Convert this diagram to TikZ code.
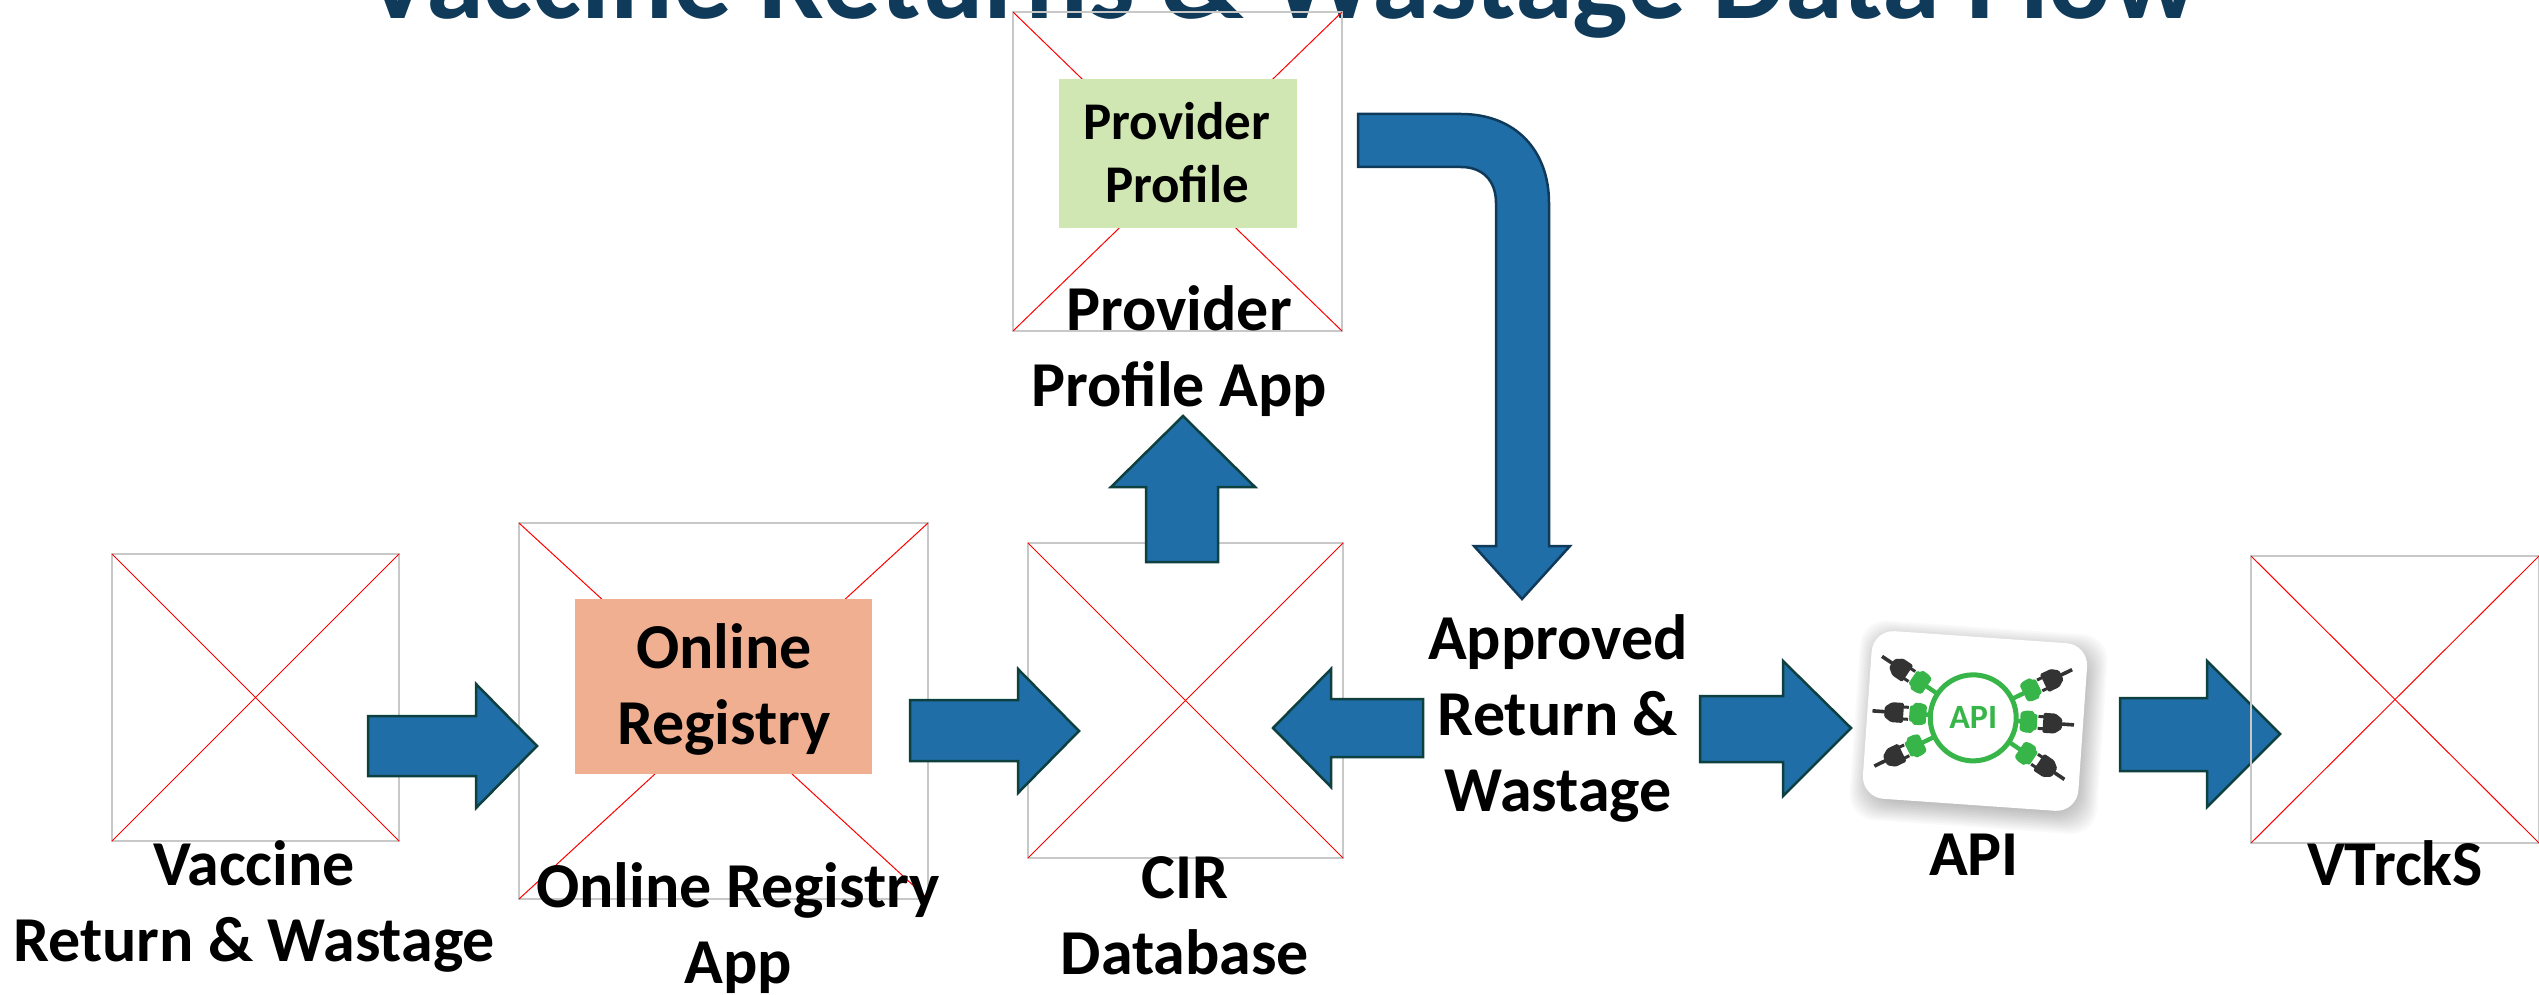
\documentclass[tikz,border=0pt]{standalone}
\usepackage{fontspec}
\setmainfont{Carlito}
\usetikzlibrary{calc}
\definecolor{arrowblue}{HTML}{1F6EA8}
\definecolor{arrowline}{HTML}{0F4040}
\definecolor{titleblue}{HTML}{0F3A5A}
\definecolor{framegray}{HTML}{C8C8C8}
\definecolor{boxorange}{HTML}{F1AF92}
\definecolor{boxgreen}{HTML}{D1E7B3}
\definecolor{apigreen}{HTML}{38B549}
\definecolor{plugdark}{HTML}{333333}
\tikzset{
 imgframe/.style={draw=framegray,line width=1pt,inner sep=0pt,outer sep=0pt,anchor=north west},
 crossline/.style={draw=red,line width=0.5pt},
 blockarrow/.style={fill=arrowblue,draw=arrowline,line width=1.25pt,miter limit=10},
 lab/.style={font=\fontsize{32}{38}\selectfont\bfseries,align=center,text=black,inner sep=0pt},
 smalllab/.style={font=\fontsize{26.5}{31.5}\selectfont\bfseries,align=center,text=black,inner sep=0pt},
}
\newcommand{\imgbox}[5]{% name x1 y1 x2 y2
 \node[imgframe,minimum width={(#4-#2)*0.5pt},minimum height={(#5-#3)*0.5pt}] (#1) at (#2,#3) {};
 \draw[crossline] (#1.north west) -- (#1.south east);
 \draw[crossline] (#1.north east) -- (#1.south west);
}
\newcommand{\harrow}[8]{% x0 ytop ybot xhead headtop headbot xtip ytip
 \draw[blockarrow] (#1,#2) -- (#4,#2) -- (#4,#5) -- (#7,#8) -- (#4,#6) -- (#4,#3) -- (#1,#3) -- cycle;
}
\newcommand{\apilobe}[2]{% angle, radial extra length
 \begin{scope}[rotate around={#1:(0,0)}]
  \fill[apigreen] (41,-2.2) rectangle (50+#2,2.2);
  \begin{scope}[shift={(#2,0)}]
   \fill[apigreen,rounded corners=0.7pt] (47,-9) -- (52,-11) -- (60,-11) -- (60,-8) -- (64,-8) -- (64,8) -- (60,8) -- (60,11) -- (52,11) -- (47,9) -- cycle;
   \fill[plugdark] (65,-7.5) rectangle (71,-4.5);
   \fill[plugdark] (65,4.5) rectangle (71,7.5);
   \fill[plugdark,rounded corners=0.7pt] (70,-10) -- (82,-10) -- (89,-5) -- (89,5) -- (82,10) -- (70,10) -- cycle;
   \fill[plugdark] (88,-1.8) rectangle (101,1.8);
  \end{scope}
 \end{scope}}
\begin{document}
\begin{tikzpicture}[x=0.5pt,y=-0.5pt]
\useasboundingbox (0,0) rectangle (2539,995);
\clip (0,0) rectangle (2539,995);
\fill[white] (0,0) rectangle (2539,995);

\node[font=\fontsize{58.5}{64}\selectfont\bfseries,text=titleblue,anchor=base,inner sep=0pt] (title) at (1281,19) {Vaccine Returns \& Wastage Data Flow};

\imgbox{vaccine}{112}{554}{399}{841}
\imgbox{online}{519}{523}{928}{899}
\imgbox{cir}{1028}{543}{1343}{858}
\imgbox{provider}{1013}{12}{1342}{331}

\node[fill=boxorange,inner sep=0pt,outer sep=0pt,anchor=north west,minimum width=148.5pt,minimum height=87.5pt] (orangebox) at (575,599) {};
\node[fill=boxgreen,inner sep=0pt,outer sep=0pt,anchor=north west,minimum width=119pt,minimum height=74.5pt] (greenbox) at (1059,79) {};

\harrow{368}{716}{776}{476}{684}{808}{537}{746}
\harrow{910}{700}{761}{1018}{669}{793}{1079}{731}
\harrow{1700}{696}{762}{1783}{661}{796}{1851}{728}
\harrow{2120}{698}{771}{2207}{661}{807}{2280}{734}
\harrow{1423}{699}{757}{1331}{669}{787}{1273}{728}
\draw[blockarrow] (1146,562) -- (1146,487) -- (1111,487) -- (1183,416) -- (1255,487) -- (1218,487) -- (1218,562) -- cycle;
\draw[blockarrow,draw=titleblue] (1358,114) -- (1461,114) .. controls (1515,114) and (1549,150) .. (1549,203) -- (1549,546) -- (1570,546) -- (1522,599) -- (1474,546) -- (1496,546) -- (1496,203) .. controls (1496,180) and (1482,167) .. (1461,167) -- (1358,167) -- cycle;

\imgbox{vtrcks}{2251}{556}{2539}{843}

% API card
\begin{scope}[shift={(1975,721)},rotate=-4]
 \foreach \g in {-6,-4,...,16}{
  \fill[black,opacity=0.025,rounded corners=13pt] (-108+4-\g,-84+6-\g) rectangle (108+4+\g,84+6+\g);
 }
 \fill[white,rounded corners=11pt] (-108,-84) rectangle (108,84);
 \begin{scope}[shift={(-2,-3)}]
  \apilobe{0}{0}
  \apilobe{180}{0}
  \apilobe{-30}{9}
  \apilobe{30}{9}
  \apilobe{150}{9}
  \apilobe{210}{9}
  \draw[apigreen,line width=2.5pt,fill=white] (0,0) circle (43);
  \node[font=\fontsize{17}{17}\selectfont\bfseries,text=apigreen,inner sep=0pt] (apiicon) at (0,0) {API};
 \end{scope}
\end{scope}

\node[smalllab] (greentext) at (1177,153) {Provider\\Profile};
\node[lab] (orangetext) at (724,689) {Online\\Registry};
\node[lab] (vaccinetext) at (254,906) {Vaccine\\Return \& Wastage};
\node[lab] (onlinetext) at (738,928) {Online Registry\\App};
\node[lab] (cirtext) at (1185,916) {CIR\\Database};
\node[lab] (providertext) at (1179,351) {Provider\\Profile App};
\node[lab] (approvedtext) at (1558,718) {Approved\\Return \&\\Wastage};
\node[lab] (apitext) at (1974,855) {API};
\node[lab] (vtrckstext) at (2395,863) {VTrckS};
\end{tikzpicture}
\end{document}
